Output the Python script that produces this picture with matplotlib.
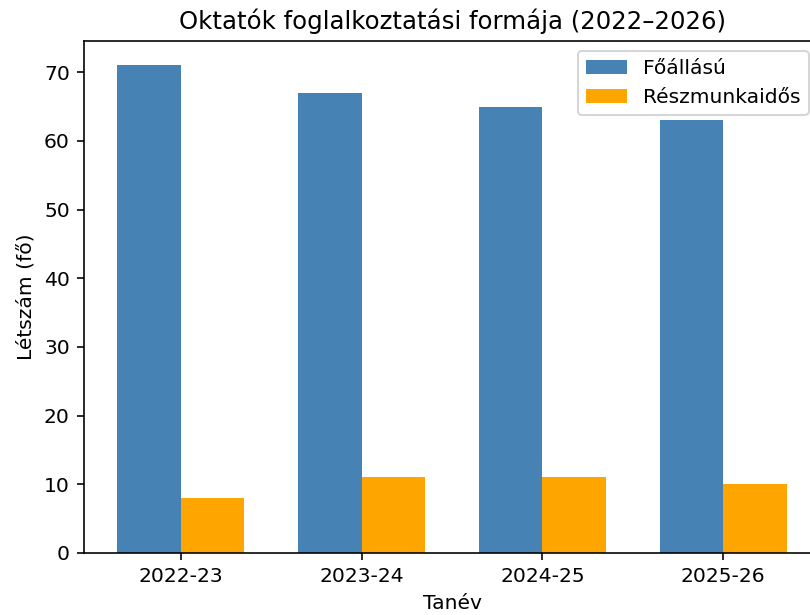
import matplotlib
matplotlib.use("Agg")
import matplotlib.pyplot as plt
import numpy as np

years = ["2022-23", "2023-24", "2024-25", "2025-26"]
full_time = [71, 67, 65, 63]
part_time = [8, 11, 11, 10]

DPI = 146
fig = plt.figure(figsize=(810 / DPI, 615 / DPI), dpi=DPI)
# axes run past the right edge of the picture, as in the reference
ax = fig.add_axes([84 / 810, 62 / 615, (820 - 84) / 810, 512 / 615])

x = np.arange(len(years))
w = 0.35
ax.bar(x - w / 2, full_time, w, color="steelblue", label="Főállású")
ax.bar(x + w / 2, part_time, w, color="orange", label="Részmunkaidős")

ax.set_xticks(x)
ax.set_xticklabels(years)
ax.set_xlabel("Tanév")
ax.set_ylabel("Létszám (fő)")
ax.set_title("Oktatók foglalkoztatási formája (2022–2026)")
ax.legend(loc="upper right", bbox_to_anchor=(808.5 / 810, 1 - 51 / 615),
          bbox_transform=fig.transFigure, borderaxespad=0)

fig.savefig("out.png", dpi=DPI)
